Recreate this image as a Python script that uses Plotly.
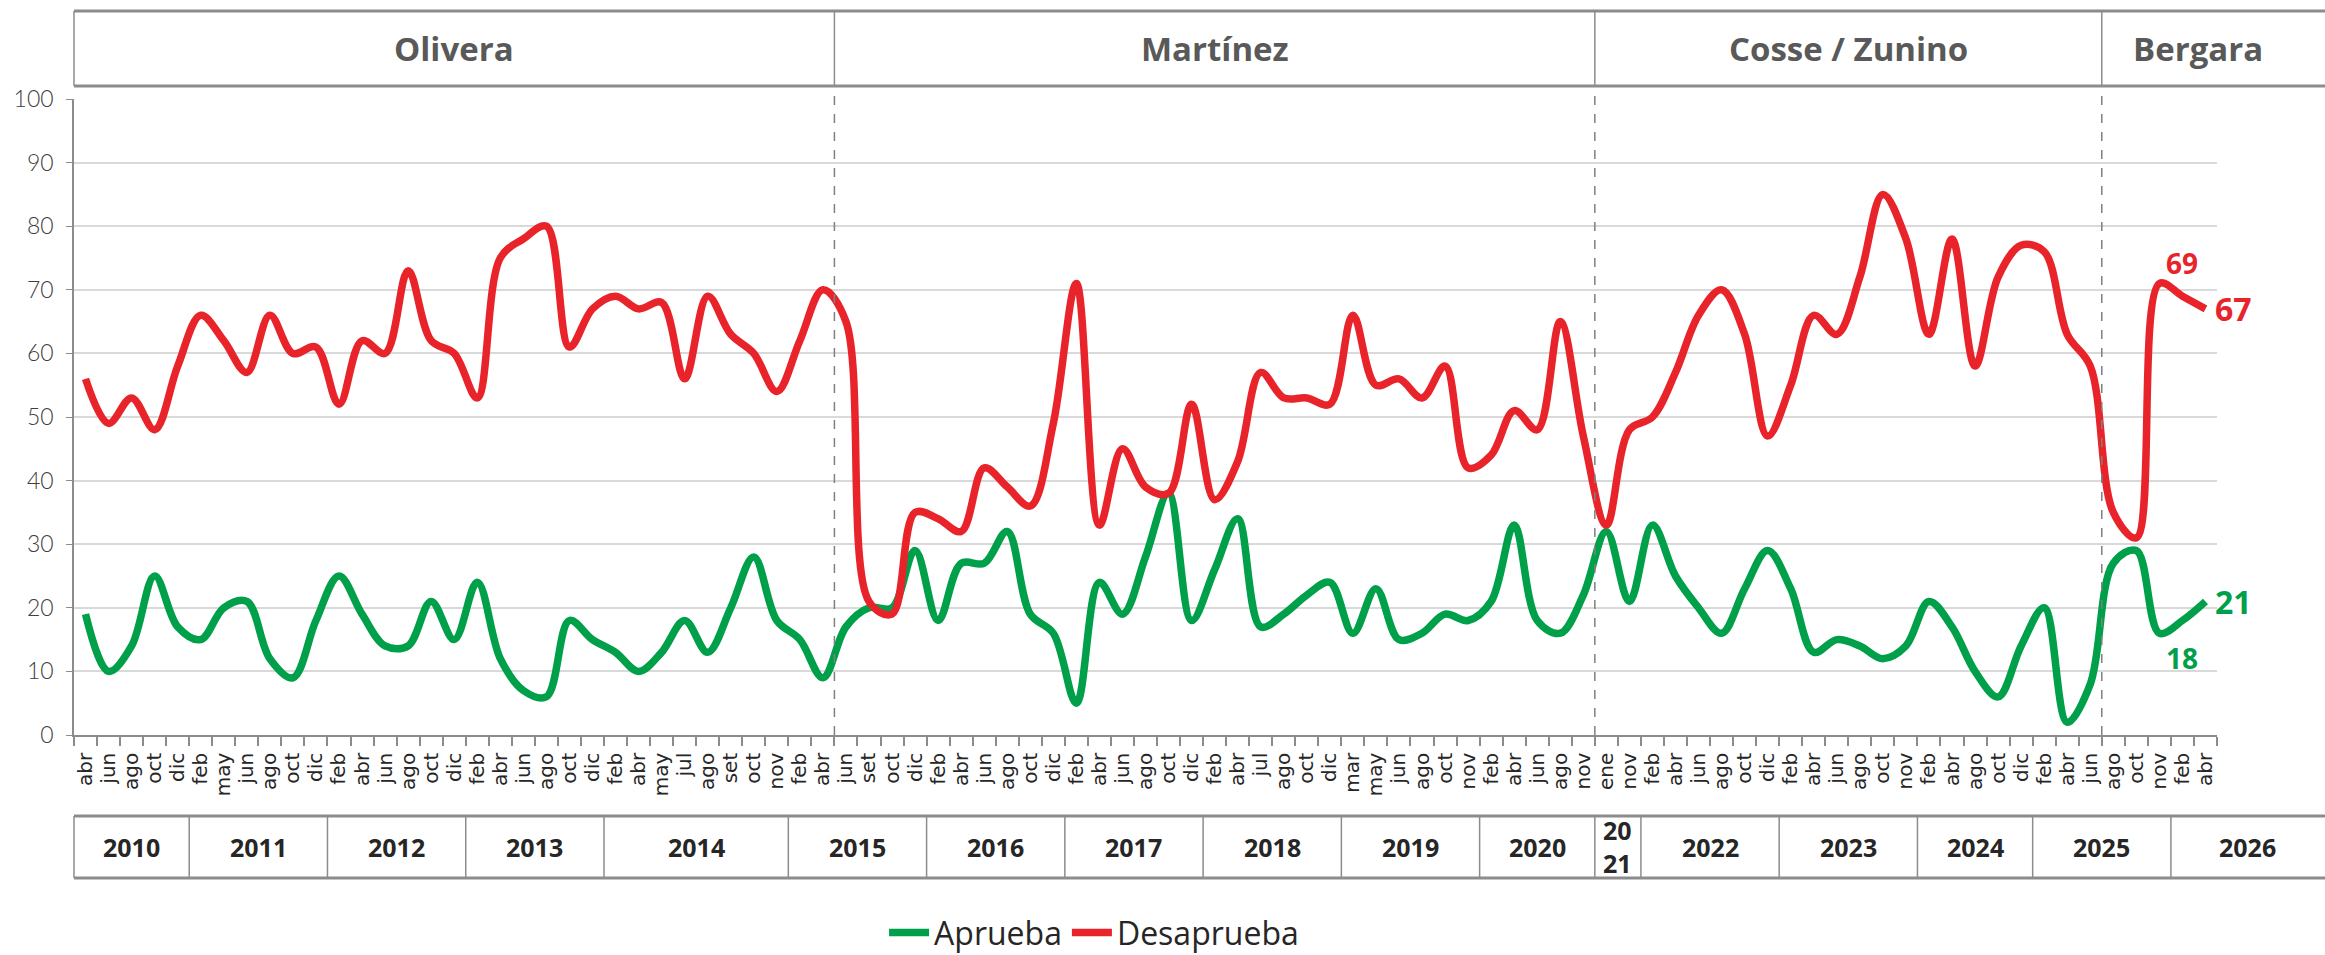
import plotly.graph_objects as go

# ---------------- data ----------------
meses_2010 = ["abr", "jun", "ago", "oct", "dic"]
meses_2011 = ["feb", "may", "jun", "ago", "oct", "dic"]
meses_2012 = ["feb", "abr", "jun", "ago", "oct", "dic"]
meses_2013 = ["feb", "abr", "jun", "ago", "oct", "dic"]
meses_2014 = ["feb", "abr", "may", "jul", "ago", "set", "oct", "nov"]
meses_2015 = ["feb", "abr", "jun", "set", "oct", "dic"]
meses_2016 = ["feb", "abr", "jun", "ago", "oct", "dic"]
meses_2017 = ["feb", "abr", "jun", "ago", "oct", "dic"]
meses_2018 = ["feb", "abr", "jul", "ago", "oct", "dic"]
meses_2019 = ["mar", "may", "jun", "ago", "oct", "nov"]
meses_2020 = ["feb", "abr", "jun", "ago", "nov"]
meses_2021 = ["ene", "nov"]
meses_2022 = ["feb", "abr", "jun", "ago", "oct", "dic"]
meses_2023 = ["feb", "abr", "jun", "ago", "oct", "nov"]
meses_2024 = ["feb", "abr", "ago", "oct", "dic"]
meses_2025 = ["feb", "abr", "jun", "ago", "oct", "nov"]
meses_2026 = ["feb", "abr"]

anios = [2010, 2011, 2012, 2013, 2014, 2015, 2016, 2017, 2018,
         2019, 2020, 2021, 2022, 2023, 2024, 2025, 2026]
meses_por_anio = [meses_2010, meses_2011, meses_2012, meses_2013, meses_2014,
                  meses_2015, meses_2016, meses_2017, meses_2018, meses_2019,
                  meses_2020, meses_2021, meses_2022, meses_2023, meses_2024,
                  meses_2025, meses_2026]
etiqueta_anio = {2021: "20<br>21"}

aprueba = [19, 10, 14, 25, 17,
           15, 20, 21, 12, 9, 18,
           25, 19, 14, 14, 21, 15,
           24, 12, 7, 6, 18, 15,
           13, 10, 13, 18, 13, 20, 28, 18,
           15, 9, 17, 20, 20, 29,
           18, 27, 27, 32, 19, 16,
           5, 24, 19, 28, 38, 18,
           26, 34, 17, 19, 22, 24,
           16, 23, 15, 16, 19, 18,
           21, 33, 18, 16, 22,
           32, 21,
           33, 25, 20, 16, 23, 29,
           23, 13, 15, 14, 12, 14,
           21, 17, 10, 6, 14,
           20, 2, 8, 27, 29, 16,
           18, 21]

desaprueba = [56, 49, 53, 48, 58,
              66, 62, 57, 66, 60, 61,
              52, 62, 60, 73, 62, 60,
              53, 75, 78, 80, 61, 67,
              69, 67, 68, 56, 69, 63, 60, 54,
              62, 70, 65, 21, 19, 35,
              34, 32, 42, 39, 36, 49,
              71, 33, 45, 39, 38, 52,
              37, 43, 57, 53, 53, 52,
              66, 55, 56, 53, 58, 42,
              44, 51, 48, 65, 47,
              33, 48,
              50, 57, 66, 70, 63, 47,
              55, 66, 63, 72, 85, 78,
              63, 78, 58, 72, 77,
              76, 63, 58, 35, 31, 71,
              69, 67]

intendentes = ["Olivera", "Martínez", "Cosse / Zunino", "Bergara"]
inicio_mandato = [(2010, "abr"), (2015, "jun"), (2021, "ene"), (2025, "ago")]

# ---------------- derived ----------------
puntos = [(a, m) for a, ms in zip(anios, meses_por_anio) for m in ms]
meses = [m for _, m in puntos]
x = list(range(len(puntos)))
n = len(puntos)

RED = "#E8242A"
GREEN = "#00A04A"
BAND = "#8c8c8c"

W, H = 2325, 955
ML, MR, MT, MB = 74, 108, 99, 220
XR = (-0.5, n - 0.5)


def xp(v):
    return (v - XR[0]) / (XR[1] - XR[0])


PAGE_RIGHT = (W - ML) / (W - ML - MR)

fig = go.Figure()
fig.add_trace(go.Scatter(x=x, y=aprueba, name="Aprueba", mode="lines",
                         line=dict(color=GREEN, width=7.5, shape="spline", smoothing=1.0)))
fig.add_trace(go.Scatter(x=x, y=desaprueba, name="Desaprueba", mode="lines",
                         line=dict(color=RED, width=7.5, shape="spline", smoothing=1.0)))

shapes = []
annotations = []

# term boundaries
starts = [puntos.index(s) for s in inicio_mandato]
bounds = [s - 0.5 for s in starts]
HB_TOP, HB_BOT = 1.1384, 1.0204
for b in bounds[1:]:
    shapes.append(dict(type="line", xref="paper", yref="paper", x0=xp(b), x1=xp(b),
                       y0=0, y1=HB_BOT, line=dict(color="#808080", width=1.5, dash="dash")))
# header band
shapes.append(dict(type="line", xref="paper", yref="paper", x0=0, x1=PAGE_RIGHT,
                   y0=HB_TOP, y1=HB_TOP, line=dict(color=BAND, width=3)))
shapes.append(dict(type="line", xref="paper", yref="paper", x0=0, x1=PAGE_RIGHT,
                   y0=HB_BOT, y1=HB_BOT, line=dict(color=BAND, width=3)))
edges = [0] + [xp(b) for b in bounds[1:]] + [PAGE_RIGHT]
for e in edges[:-1]:
    shapes.append(dict(type="line", xref="paper", yref="paper", x0=e, x1=e,
                       y0=HB_BOT, y1=HB_TOP, line=dict(color=BAND, width=1.5)))
name_x = [(edges[i] + edges[i + 1]) / 2 for i in range(len(intendentes))]
name_x[-1] -= 0.007
for nm, cx in zip(intendentes, name_x):
    annotations.append(dict(text=nm, xref="paper", yref="paper", x=cx, y=(HB_TOP + HB_BOT) / 2,
                            showarrow=False, xanchor="center", yanchor="middle",
                            font=dict(family="Open Sans", size=33, color="#595959", weight=700)))

# year band
YB_TOP, YB_BOT = -0.1274, -0.2248
shapes.append(dict(type="line", xref="paper", yref="paper", x0=0, x1=PAGE_RIGHT,
                   y0=YB_TOP, y1=YB_TOP, line=dict(color=BAND, width=3)))
shapes.append(dict(type="line", xref="paper", yref="paper", x0=0, x1=PAGE_RIGHT,
                   y0=YB_BOT, y1=YB_BOT, line=dict(color=BAND, width=3)))
idx = 0
for k, (a, ms) in enumerate(zip(anios, meses_por_anio)):
    left = xp(idx - 0.5)
    right = xp(idx + len(ms) - 0.5) if k < len(anios) - 1 else PAGE_RIGHT
    shapes.append(dict(type="line", xref="paper", yref="paper", x0=left, x1=left,
                       y0=YB_BOT, y1=YB_TOP, line=dict(color=BAND, width=1.5)))
    annotations.append(dict(text=etiqueta_anio.get(a, str(a)), xref="paper", yref="paper",
                            x=(left + right) / 2, y=(YB_TOP + YB_BOT) / 2,
                            showarrow=False, xanchor="center", yanchor="middle",
                            font=dict(family="Open Sans", size=25, color="#262626", weight=700)))
    idx += len(ms)

# end data labels
lab_font = dict(family="Open Sans", weight=700)
annotations += [
    dict(x=x[-2], y=desaprueba[-2], text=str(desaprueba[-2]), showarrow=False,
         yshift=33, font=dict(**lab_font, size=28, color=RED)),
    dict(x=x[-1], y=desaprueba[-1], text=str(desaprueba[-1]), showarrow=False,
         xanchor="left", xshift=8, font=dict(**lab_font, size=32, color=RED)),
    dict(x=x[-2], y=aprueba[-2], text=str(aprueba[-2]), showarrow=False,
         yshift=-37, font=dict(**lab_font, size=28, color=GREEN)),
    dict(x=x[-1], y=aprueba[-1], text=str(aprueba[-1]), showarrow=False,
         xanchor="left", xshift=8, font=dict(**lab_font, size=32, color=GREEN)),
]

fig.update_layout(
    width=W, height=H,
    margin=dict(l=ML, r=MR, t=MT, b=MB, autoexpand=False),
    paper_bgcolor="white", plot_bgcolor="white",
    shapes=shapes, annotations=annotations,
    showlegend=True,
    legend=dict(orientation="h", x=0.476, xanchor="center", y=-0.311, yanchor="middle",
                font=dict(family="Open Sans", size=32, color="#262626"),
                itemwidth=40, traceorder="normal"),
)
fig.update_xaxes(range=list(XR), tickmode="array", tickvals=x, ticktext=meses,
                 tickangle=-90, ticks="", showgrid=False, zeroline=False,
                 showline=True, linecolor=BAND, linewidth=1.5, automargin=False,
                 tickfont=dict(family="DejaVu Sans", size=20, color="#262626"),
                 ticklabelstandoff=8,
                 minor=dict(tickmode="array", tickvals=[i - 0.5 for i in range(n + 1)],
                            ticks="outside", ticklen=9, tickcolor=BAND, tickwidth=1.5,
                            showgrid=False))
fig.update_yaxes(range=[0, 100], dtick=10, showgrid=True, gridcolor="#d9d9d9", gridwidth=1.5,
                 zeroline=False, showline=True, linecolor=BAND, linewidth=1.5, automargin=False,
                 ticks="outside", ticklen=6, tickcolor=BAND, ticklabelstandoff=8,
                 tickfont=dict(family="Lato", size=23, color="#404040", weight=300))

fig.write_html("out.html", config={"displayModeBar": False},
               post_script="document.body.style.margin='0';document.body.style.overflow='hidden';")
